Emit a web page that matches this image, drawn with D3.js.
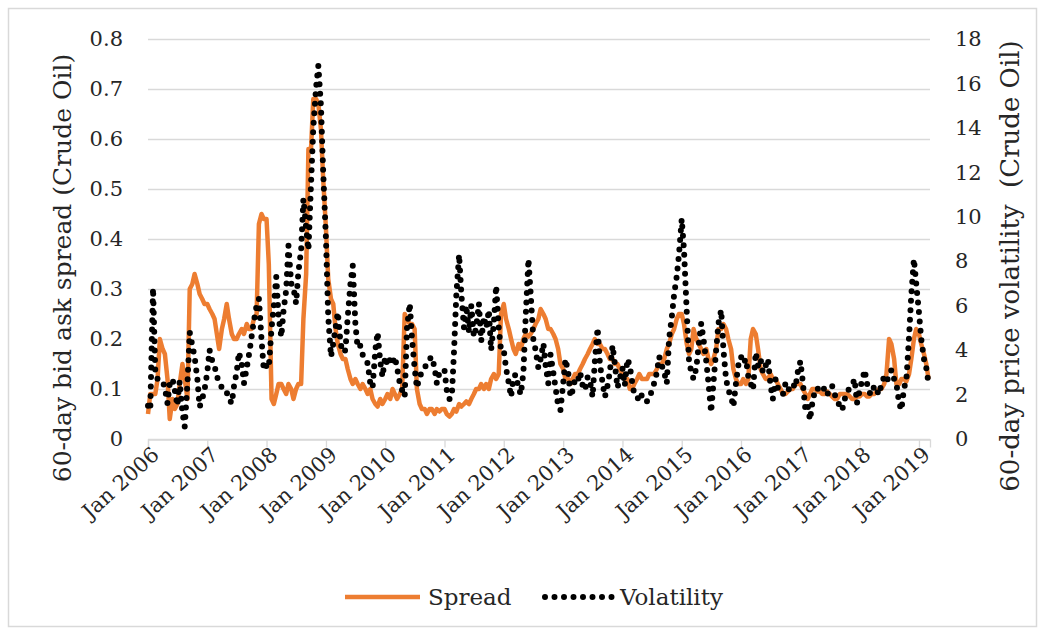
<!DOCTYPE html>
<html>
  <body style="margin:0;background:#fff">
    <style>
      text { font-family: "DejaVu Serif", serif; fill: #262626; }
    </style>
    <script src="https://cdn.jsdelivr.net/npm/d3@7"></script>
    <script type="text/javascript">
      const width = 1045;
      const height = 634;

      // semi-monthly observations (1st and 15th of each month), Jan 2006 - Mar 2019
      const spread = [
        0.05,0.09, 0.09,0.09, 0.12,0.2, 0.18,0.17, 0.12,0.04, 0.08,0.06, 0.07,0.11, 0.15,0.12, 0.08,0.3, 0.31,0.33, 0.31,0.29, 0.28,0.27,
        0.27,0.26, 0.25,0.24, 0.21,0.18, 0.22,0.24, 0.27,0.24, 0.21,0.2, 0.2,0.21, 0.22,0.21, 0.23,0.22, 0.22,0.24, 0.25,0.43, 0.45,0.44,
        0.44,0.35, 0.08,0.07, 0.09,0.11, 0.11,0.1, 0.09,0.11, 0.1,0.08, 0.1,0.11, 0.11,0.24, 0.33,0.58, 0.58,0.68, 0.68,0.67, 0.62,0.52,
        0.42,0.32, 0.28,0.27, 0.22,0.19, 0.17,0.16, 0.16,0.14, 0.12,0.11, 0.12,0.11, 0.1,0.11, 0.1,0.09, 0.1,0.08, 0.07,0.065, 0.08,0.07,
        0.08,0.09, 0.08,0.1, 0.09,0.08, 0.09,0.1, 0.25,0.24, 0.23,0.23, 0.22,0.1, 0.07,0.06, 0.06,0.05, 0.06,0.06, 0.05,0.06, 0.055,0.06,
        0.06,0.05, 0.045,0.05, 0.06,0.055, 0.07,0.065, 0.07,0.075, 0.07,0.08, 0.09,0.1, 0.1,0.11, 0.1,0.11, 0.1,0.12, 0.13,0.12, 0.13,0.25,
        0.27,0.24, 0.22,0.2, 0.18,0.17, 0.19,0.18, 0.2,0.21, 0.205,0.21, 0.22,0.23, 0.24,0.26, 0.25,0.24, 0.22,0.22, 0.21,0.2, 0.18,0.15,
        0.14,0.12, 0.12,0.11, 0.12,0.13, 0.13,0.14, 0.15,0.16, 0.17,0.18, 0.19,0.2, 0.19,0.19, 0.18,0.18, 0.17,0.16, 0.16,0.15, 0.15,0.14,
        0.13,0.12, 0.12,0.1, 0.1,0.11, 0.12,0.13, 0.12,0.12, 0.12,0.13, 0.13,0.13, 0.14,0.15, 0.15,0.16, 0.18,0.19, 0.21,0.22, 0.24,0.25,
        0.25,0.23, 0.19,0.17, 0.18,0.22, 0.2,0.19, 0.18,0.17, 0.18,0.16, 0.15,0.16, 0.18,0.22, 0.22,0.23, 0.22,0.2, 0.18,0.14, 0.12,0.11,
        0.11,0.12, 0.11,0.12, 0.2,0.22, 0.21,0.18, 0.14,0.13, 0.12,0.12, 0.13,0.12, 0.12,0.11, 0.1,0.09, 0.09,0.095, 0.1,0.1, 0.11,0.11,
        0.11,0.1, 0.09,0.08, 0.09,0.1, 0.1,0.095, 0.095,0.09, 0.09,0.095, 0.09,0.085, 0.08,0.08, 0.09,0.09, 0.09,0.09, 0.085,0.08, 0.08,0.085,
        0.085,0.09, 0.09,0.085, 0.085,0.09, 0.09,0.095, 0.1,0.1, 0.11,0.13, 0.2,0.19, 0.16,0.11, 0.11,0.12, 0.12,0.115, 0.13,0.16, 0.2,0.22,
        0.21,0.19, 0.17,0.15, 0.12
      ];

      const volatility = [
        1.5,1.3, 6.8,3.0, 2.7,2.7, 2.6,2.3, 1.6,2.5, 2.7,2.2, 1.5,2.6, 1.2,0.55, 2.5,4.8, 4.2,3.7, 2.7,1.45, 1.8,2.2,
        3.0,4.0, 3.5,3.3, 2.8,2.6, 2.3,2.3, 2.1,1.8, 1.6,2.4, 3.0,3.9, 3.4,2.5, 3.2,3.8, 4.6,5.3, 6.0,6.3, 4.5,3.1,
        3.3,3.2, 5.0,6.0, 7.3,5.5, 4.6,5.8, 6.7,8.7, 7.0,6.8, 6.1,7.5, 8.5,10.8, 9.5,8.5, 11.5,14.0, 15.8,16.8, 15.0,12.0,
        9.0,5.5, 3.7,4.3, 5.0,5.7, 4.3,3.9, 4.0,5.5, 7.0,7.8, 5.2,4.1, 4.2,3.8, 3.6,3.4, 2.5,2.3, 4.0,4.8, 3.5,2.8,
        3.7,3.3, 3.6,3.4, 3.7,3.2, 2.5,2.2, 1.9,5.0, 6.1,4.5, 3.2,2.3, 2.8,3.0, 3.2,3.4, 3.6,3.7, 3.2,2.5, 3.0,3.1,
        3.1,2.2, 1.8,1.9, 4.0,6.5, 8.3,6.5, 5.0,6.0, 4.8,6.0, 4.6,5.0, 6.1,4.4, 5.5,5.0, 5.8,4.0, 5.2,6.9, 5.0,4.0,
        4.0,3.2, 2.5,1.9, 2.8,2.9, 2.3,2.0, 3.0,5.5, 8.1,6.5, 4.5,4.0, 3.2,3.6, 4.3,3.3, 2.5,3.8, 3.0,2.3, 1.5,1.3,
        2.5,3.6, 3.0,1.9, 2.2,2.7, 2.6,3.0, 2.4,2.2, 2.8,2.6, 1.9,3.5, 5.0,3.4, 2.5,1.9, 2.4,3.0, 4.2,3.4, 2.3,2.7,
        3.2,2.4, 3.6,3.3, 2.6,2.0, 1.9,1.7, 2.0,1.8, 1.7,1.8, 2.2,2.5, 3.0,3.7, 3.3,3.0, 2.5,4.5, 5.5,6.5, 7.3,8.3,
        9.9,8.5, 5.7,3.5, 3.0,2.7, 3.2,4.2, 5.2,4.5, 3.5,2.5, 1.2,2.5, 4.0,5.2, 5.8,4.0, 2.7,2.2, 1.9,1.45, 2.5,3.3,
        3.7,3.4, 3.6,2.8, 2.5,2.2, 3.9,3.3, 3.6,3.0, 3.3,3.6, 2.4,1.8, 2.7,2.3, 2.1,2.0, 2.5,2.2, 2.3,2.5, 2.3,3.0,
        3.5,2.6, 1.3,1.5, 0.86,1.6, 2.2,2.3, 2.1,2.2, 2.3,2.0, 2.2,2.4, 2.0,1.7, 1.5,1.3, 1.8,2.1, 2.3,2.4, 2.7,1.6,
        2.2,2.6, 3.1,2.5, 2.1,2.0, 2.4,2.2, 2.0,2.5, 2.8,2.6, 2.8,3.1, 2.7,2.5, 1.6,1.3, 2.3,2.6, 4.6,6.5, 8.1,7.0,
        5.7,4.5, 3.6,3.2, 2.5
      ];

      const dates = spread.map((d, i) => new Date(2006 + Math.floor(i / 24), Math.floor((i % 24) / 2), i % 2 ? 15 : 1));
      const yearTicks = d3.range(2006, 2020).map((y) => new Date(y, 0, 1));
      const leftTicks = [0, 0.1, 0.2, 0.3, 0.4, 0.5, 0.6, 0.7, 0.8];
      const rightTicks = [0, 2, 4, 6, 8, 10, 12, 14, 16, 18];

      const plot = { left: 148, right: 930, top: 39, bottom: 439 };
      const orange = '#ED7D31';
      const grid = '#D9D9D9';

      const svg = d3.select('body')
        .append('svg')
        .attr('width', width)
        .attr('height', height);

      svg.append('rect')
        .attr('x', 8.5).attr('y', 8.5)
        .attr('width', 1028).attr('height', 618)
        .attr('fill', '#fff')
        .attr('stroke', grid)
        .attr('stroke-width', 1.5);

      const x = d3.scaleTime()
        .domain([new Date(2006, 0, 1), new Date(2019, 2, 10)])
        .range([plot.left, plot.right]);

      const yLeft = d3.scaleLinear().domain([0, 0.8]).range([plot.bottom, plot.top]);
      const yRight = d3.scaleLinear().domain([0, 18]).range([plot.bottom, plot.top]);

      // gridlines
      svg.append('g')
        .selectAll('line')
        .data(leftTicks)
        .enter()
        .append('line')
        .attr('x1', plot.left).attr('x2', plot.right)
        .attr('y1', (d) => Math.round(yLeft(d)) + 0.5)
        .attr('y2', (d) => Math.round(yLeft(d)) + 0.5)
        .attr('stroke', grid)
        .attr('stroke-width', 1.3);

      // x axis
      const xAxis = svg.append('g')
        .attr('transform', `translate(0,${plot.bottom + 0.5})`)
        .call(d3.axisBottom(x).tickValues(yearTicks).tickSize(8).tickFormat(d3.timeFormat('Jan %Y')));
      xAxis.select('.domain').attr('stroke', grid).attr('stroke-width', 1.3);
      xAxis.selectAll('.tick line').attr('stroke', grid).attr('stroke-width', 1.3);
      xAxis.selectAll('.tick text')
        .attr('font-size', 21)
        .attr('font-family', '"DejaVu Serif", serif')
        .attr('fill', '#262626')
        .attr('text-anchor', 'end')
        .attr('y', 0)
        .attr('dy', 0)
        .attr('transform', 'translate(12,17) rotate(-42)');

      // left axis
      const lAxis = svg.append('g')
        .attr('transform', `translate(${plot.left - 22},0)`)
        .call(d3.axisLeft(yLeft).tickValues(leftTicks).tickSize(0).tickFormat((d) => d === 0 ? '0' : d3.format('.1f')(d)));
      lAxis.select('.domain').remove();
      lAxis.selectAll('.tick text')
        .attr('font-size', 21)
        .attr('font-family', '"DejaVu Serif", serif')
        .attr('fill', '#262626');

      // right axis
      const rAxis = svg.append('g')
        .attr('transform', `translate(${plot.right + 22},0)`)
        .call(d3.axisRight(yRight).tickValues(rightTicks).tickSize(0));
      rAxis.select('.domain').remove();
      rAxis.selectAll('.tick text')
        .attr('font-size', 21)
        .attr('font-family', '"DejaVu Serif", serif')
        .attr('fill', '#262626');

      // series
      const spreadLine = d3.line()
        .x((d, i) => x(dates[i]))
        .y((d) => yLeft(d));

      const volLine = d3.line()
        .x((d, i) => x(dates[i]))
        .y((d) => yRight(d));

      svg.append('path')
        .datum(spread)
        .attr('d', spreadLine)
        .attr('fill', 'none')
        .attr('stroke', orange)
        .attr('stroke-width', 4.5)
        .attr('stroke-linejoin', 'round');

      svg.append('path')
        .datum(volatility)
        .attr('d', volLine)
        .attr('fill', 'none')
        .attr('stroke', '#000')
        .attr('stroke-width', 6)
        .attr('stroke-linecap', 'round')
        .attr('stroke-dasharray', '0,9.5');

      // axis titles
      svg.append('text')
        .attr('transform', 'translate(62,268) rotate(-90)')
        .attr('text-anchor', 'middle')
        .attr('dy', '0.35em')
        .attr('font-size', 25)
        .text('60-day bid ask spread (Crude Oil)');

      svg.append('text')
        .attr('transform', 'translate(1010,266) rotate(-90)')
        .attr('text-anchor', 'middle')
        .attr('dy', '0.35em')
        .attr('font-size', 26)
        .attr('xml:space', 'preserve')
        .text('60-day price volatility  (Crude Oil)');

      // legend
      const legend = svg.append('g').attr('transform', 'translate(0,597)');
      legend.append('line')
        .attr('x1', 345).attr('x2', 420)
        .attr('stroke', orange).attr('stroke-width', 4.5);
      legend.append('text')
        .attr('x', 428).attr('dy', '0.35em')
        .attr('font-size', 23)
        .text('Spread');
      legend.append('line')
        .attr('x1', 545).attr('x2', 612)
        .attr('stroke', '#000').attr('stroke-width', 6)
        .attr('stroke-linecap', 'round')
        .attr('stroke-dasharray', '0,9.5');
      legend.append('text')
        .attr('x', 620).attr('dy', '0.35em')
        .attr('font-size', 23)
        .text('Volatility');
    </script>
  </body>
</html>
